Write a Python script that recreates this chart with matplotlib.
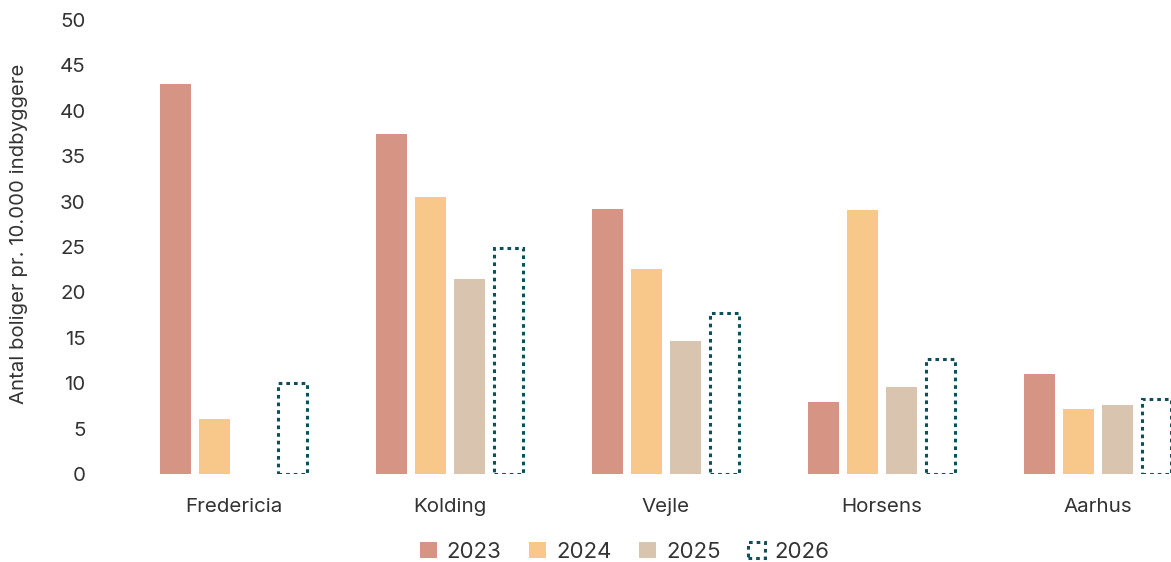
import numpy as np
import matplotlib
matplotlib.use("Agg")
import matplotlib.pyplot as plt
from matplotlib.patches import Patch

plt.rcParams['font.family'] = ['Inter', 'DejaVu Sans']

categories = ["Fredericia", "Kolding", "Vejle", "Horsens", "Aarhus"]
years = ["2023", "2024", "2025", "2026"]
v2023 = [43.0, 37.4, 29.2, 7.9, 11.0]
v2024 = [6.1, 30.5, 22.6, 29.1, 7.2]
v2025 = [np.nan, 21.5, 14.6, 9.6, 7.6]
v2026 = [10.0, 24.9, 17.7, 12.7, 8.3]
yticks = [0, 5, 10, 15, 20, 25, 30, 35, 40, 45, 50]

colors = ["#D59484", "#F8C78A", "#D9C4B0"]
teal = "#0E4F5C"
text_color = "#333333"

fig = plt.figure(figsize=(11.71, 5.62), dpi=100)
ax = fig.add_axes([126/1171, (562-474)/562, (1171-126)/1171, 454/562])

x = np.arange(len(categories))
step = 39/216
width = 31/216
offsets = (np.arange(4) - 1.5) * step

for i, vals in enumerate([v2023, v2024, v2025]):
    ax.bar(x + offsets[i], vals, width=width, color=colors[i], label=years[i])
ax.bar(x + offsets[3], v2026, width=width - 2.5/216, facecolor="none", edgecolor=teal,
       linewidth=2.2, linestyle=(0, (1.2, 1.3)), label=years[3])

ax.set_xlim(-0.5, 4.5 - 35/216)
ax.set_ylim(0, 50)
ax.set_yticks(yticks)
ax.set_xticks(x)
ax.set_xticklabels(categories)
for s in ax.spines.values():
    s.set_visible(False)
ax.tick_params(axis='both', length=0, labelsize=14.8, colors=text_color)
ax.tick_params(axis='y', pad=29)
ax.tick_params(axis='x', pad=17)
ax.set_ylabel("Antal boliger pr. 10.000 indbyggere", fontsize=14.6, color=text_color)
ax.yaxis.set_label_coords(-(126-28)/1045, 0.53)

handles = [Patch(facecolor=colors[0], label="2023"),
           Patch(facecolor=colors[1], label="2024"),
           Patch(facecolor=colors[2], label="2025"),
           Patch(facecolor="none", edgecolor=teal, linewidth=2.2, linestyle=(0, (1.2, 1.3)), label="2026")]
fig.legend(handles=handles, loc="center", bbox_to_anchor=(625/1171, 1 - 552/562), ncol=4,
           frameon=False, fontsize=16, handlelength=0.75, handleheight=0.75, columnspacing=1.25,
           handletextpad=0.45, labelcolor=text_color)

fig.savefig("out.png", dpi=100)
